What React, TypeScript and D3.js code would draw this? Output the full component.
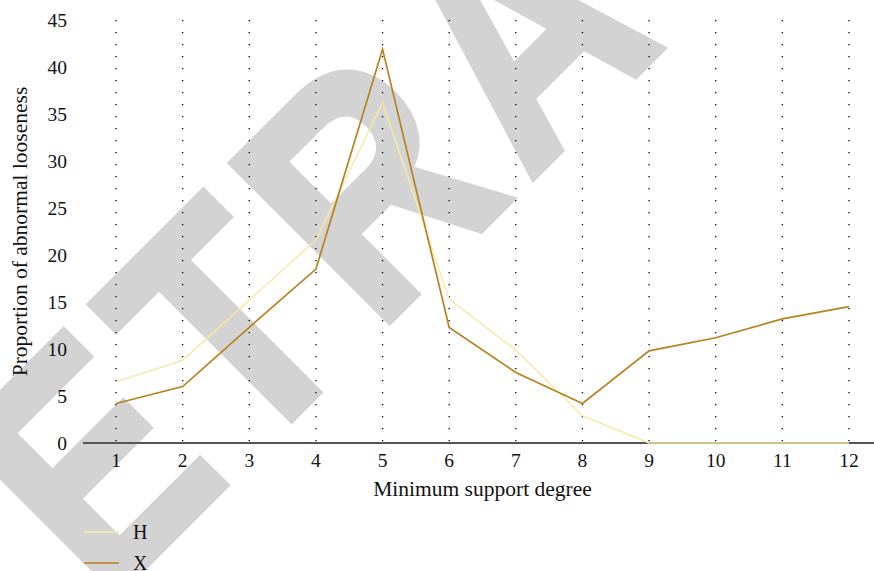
import React from "react";
import * as d3 from "d3";

const categories = [1, 2, 3, 4, 5, 6, 7, 8, 9, 10, 11, 12];
const seriesH = [6.5, 8.8, 15.2, 21.6, 36.2, 15.3, 9.9, 2.9, 0, 0, 0, 0];
const seriesX = [4.2, 6.0, 12.3, 18.5, 41.9, 12.3, 7.5, 4.2, 9.8, 11.2, 13.2, 14.5];
const yTicks = [0, 5, 10, 15, 20, 25, 30, 35, 40, 45];
const seriesNames = ["H", "X"];
const seriesColors = ["#f6e9a2", "#b7821e"];
const watermark = "RETRACTED";

const W = 874;
const H = 571;

export default function App() {
  const x = d3.scaleLinear().domain([1, 12]).range([116, 849]);
  const y = d3.scaleLinear().domain([0, 45]).range([443, 20]);
  const line = d3
    .line<number>()
    .x((_, i) => x(categories[i]))
    .y((d) => y(d));
  const serif = "'Liberation Serif', 'Times New Roman', serif";
  const data = [seriesH, seriesX];
  return (
    <svg
      width={W}
      height={H}
      viewBox={`0 0 ${W} ${H}`}
      style={{ position: "absolute", left: 0, top: 0, background: "#fff" }}
    >
      <rect x={0} y={0} width={W} height={H} fill="#fff" />
      <text
        transform="translate(-47,758) rotate(-45) scale(0.84,1)"
        fontFamily="'Liberation Sans', Arial, sans-serif"
        fontWeight="bold"
        fontSize={325}
        letterSpacing={21}
        fill="#d3d3d3"
        stroke="#d3d3d3"
        strokeWidth={7}
        strokeLinejoin="miter"
      >
        {watermark}
      </text>
      {categories.map((c) => (
        <line
          key={"g" + c}
          x1={x(c)}
          x2={x(c)}
          y1={y(45)}
          y2={y(0)}
          stroke="#000"
          strokeWidth={1.3}
          strokeDasharray="1.3 10.7"
        />
      ))}
      {yTicks.map((t) => (
        <text
          key={"yt" + t}
          x={67}
          y={y(t)}
          dy="0.35em"
          textAnchor="end"
          fontFamily={serif}
          fontSize={19.5}
          fill="#111"
        >
          {t}
        </text>
      ))}
      {categories.map((c) => (
        <text
          key={"xt" + c}
          x={x(c)}
          y={467}
          textAnchor="middle"
          fontFamily={serif}
          fontSize={19.5}
          fill="#111"
        >
          {c}
        </text>
      ))}
      <line x1={83} x2={874} y1={y(0)} y2={y(0)} stroke="#555" strokeWidth={2} />
      {data.map((s, i) => (
        <path
          key={"l" + i}
          d={line(s) || ""}
          fill="none"
          stroke={seriesColors[i]}
          strokeWidth={i === 0 ? 1.4 : 1.7}
        />
      ))}
      <text
        x={482.5}
        y={496}
        textAnchor="middle"
        fontFamily={serif}
        fontSize={21.5}
        fill="#111"
      >
        Minimum support degree
      </text>
      <text
        transform={`translate(27,${(y(0) + y(45)) / 2}) rotate(-90)`}
        textAnchor="middle"
        fontFamily={serif}
        fontSize={21.5}
        fill="#111"
      >
        Proportion of abnormal looseness
      </text>
      {seriesNames.map((n, i) => (
        <g key={"lg" + n}>
          <line
            x1={84}
            x2={119}
            y1={532 + i * 31}
            y2={532 + i * 31}
            stroke={seriesColors[i]}
            strokeWidth={1.7}
          />
          <text
            x={133}
            y={532 + i * 31}
            dy="0.35em"
            fontFamily={serif}
            fontSize={20}
            fill="#111"
          >
            {n}
          </text>
        </g>
      ))}
    </svg>
  );
}
